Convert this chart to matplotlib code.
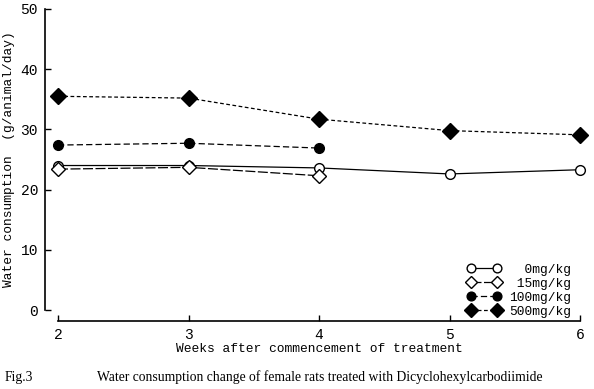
import matplotlib
matplotlib.use("Agg")
import matplotlib.pyplot as plt

# weeks after commencement of treatment
weeks = [2, 3, 4, 5, 6]
weeks_short = [2, 3, 4]

# water consumption (g/animal/day)
dose_0 = [24.0, 24.0, 23.6, 22.6, 23.3]
dose_15 = [23.4, 23.7, 22.3]
dose_100 = [27.4, 27.7, 26.9]
dose_500 = [35.5, 35.2, 31.7, 29.8, 29.1]

labels = ["  0mg/kg", " 15mg/kg", "100mg/kg", "500mg/kg"]

mono = "Liberation Mono"
serif = "Liberation Serif"

fig = plt.figure(figsize=(5.94, 3.89), dpi=100)
ax = fig.add_axes([58 / 594, 1 - 310 / 389, (580 - 58) / 594, (310 - 9) / 389])

ax.plot(weeks, dose_0, color="black", lw=0.9, ls="-", marker="o", ms=7,
        mfc="white", mec="black", mew=1.0, label=labels[0])
ax.plot(weeks_short, dose_15, color="black", lw=0.9, ls=(0, (8, 2)), marker="D", ms=7,
        mfc="white", mec="black", mew=1.0, label=labels[1])
ax.plot(weeks_short, dose_100, color="black", lw=0.9, ls=(0, (5, 2.5)), marker="o", ms=7,
        mfc="black", mec="black", label=labels[2])
ax.plot(weeks, dose_500, color="black", lw=0.9, ls=(0, (3, 2)), marker="D", ms=8,
        mfc="black", mec="black", label=labels[3])

ax.set_xlim(2, 6)
ax.set_ylim(0, 50)
ax.set_xticks(weeks)
ax.set_yticks([0, 10, 20, 30, 40, 50])

for s in ["top", "right"]:
    ax.spines[s].set_visible(False)
ax.spines["left"].set_position(("outward", 9.4))
ax.spines["bottom"].set_position(("outward", 8))
ax.spines["left"].set_linewidth(1.2)
ax.spines["bottom"].set_linewidth(1.2)
for sp in ax.spines.values():
    sp.set_clip_on(False)

ax.tick_params(direction="in", length=4, width=1, pad=5)
for t in ax.get_xticklabels() + ax.get_yticklabels():
    t.set_family(mono)
    t.set_fontsize(10.5)

ax.set_xlabel("Weeks after commencement of treatment", family=mono, fontsize=9.3, labelpad=1)
ax.set_ylabel("Water consumption  (g/animal/day)", family=mono, fontsize=9.3, labelpad=4)

for line in ax.get_lines():
    line.set_clip_on(False)

leg = ax.legend(loc="lower right", bbox_to_anchor=(1.0, -0.055), frameon=False,
                prop={"family": mono, "size": 9.3}, numpoints=2, handlelength=2.6,
                labelspacing=0.15, handletextpad=0.6, borderpad=0.2, markerscale=0.9)

fig.text(5 / 594, 1 - 377 / 389, "Fig.3", family=serif, fontsize=9.8, va="center")
fig.text(97 / 594, 1 - 377 / 389,
         "Water consumption change of female rats treated with Dicyclohexylcarbodiimide",
         family=serif, fontsize=9.8, va="center")

fig.savefig("out.png", dpi=100)
